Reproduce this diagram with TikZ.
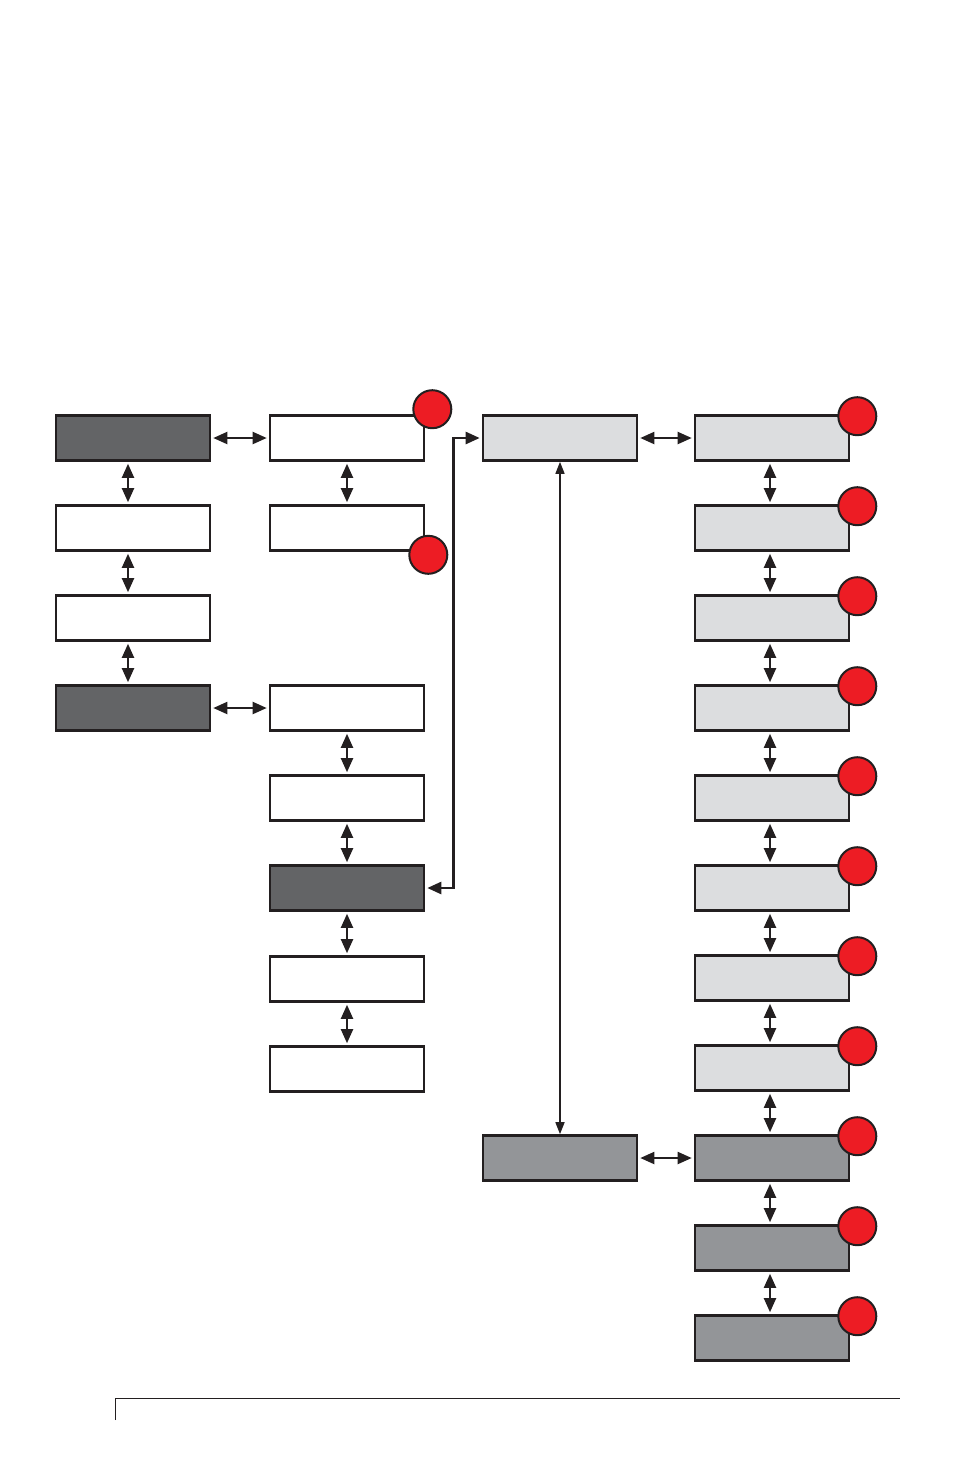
\documentclass[tikz,border=0pt]{standalone}
\usetikzlibrary{arrows.meta,positioning}
\definecolor{MenuInk}{RGB}{35,31,32}
\definecolor{MenuDark}{RGB}{99,100,102}
\definecolor{MenuMid}{RGB}{147,149,152}
\definecolor{MenuLight}{RGB}{220,221,223}
\definecolor{MenuRed}{RGB}{237,28,36}
\tikzset{
  menu/box/.style={
    draw=MenuInk,
    line width=1.3pt,
    fill=white,
    minimum width=77pt,
    minimum height=22.5pt,
    inner sep=0pt
  },
  menu/dark/.style={menu/box, fill=MenuDark},
  menu/mid/.style={menu/box, fill=MenuMid},
  menu/light/.style={menu/box, fill=MenuLight},
  menu/dot/.style={circle, draw=MenuInk, line width=1pt, fill=MenuRed, minimum size=19pt, inner sep=0pt},
  menu/arrow/.style={{Triangle[length=7pt,width=6pt]}-{Triangle[length=7pt,width=6pt]}, line width=1pt, draw=MenuInk, shorten <=1pt, shorten >=1pt},
  menu/thinarrow/.style={{Triangle[length=6pt,width=4.5pt]}-{Triangle[length=6pt,width=4.5pt]}, line width=0.75pt, draw=MenuInk},
  menu/rule/.style={line width=0.5pt, draw=MenuInk}
}

\begin{document}
\begin{tikzpicture}[x=0.5pt,y=-0.5pt]
  \useasboundingbox (0,0) rectangle (954,1474);
  % left column
  \node[menu/dark] (a1) at (133,438) {};
  \node[menu/box] (a2) at (133,528) {};
  \node[menu/box] (a3) at (133,618) {};
  \node[menu/dark] (a4) at (133,708) {};
  % second column
  \node[menu/box] (b1) at (347,438) {};
  \node[menu/box] (b2) at (347,528) {};
  \node[menu/box] (b3) at (347,708) {};
  \node[menu/box] (b4) at (347,798) {};
  \node[menu/dark] (b5) at (347,888) {};
  \node[menu/box] (b6) at (347,979) {};
  \node[menu/box] (b7) at (347,1069) {};
  % third column
  \node[menu/light] (c1) at (560,438) {};
  \node[menu/mid] (c2) at (560,1158) {};
  % right column
  \foreach \i in {1,...,8}{
    \node[menu/light] (d\i) at (772,348+90*\i) {};
  }
  \foreach \i in {9,10,11}{
    \node[menu/mid] (d\i) at (772,348+90*\i) {};
  }
  % red markers
  \node[menu/dot] (bdot1) at ([shift={(7,-5)}]b1.north east) {};
  \node[menu/dot] (bdot2) at ([shift={(3,3)}]b2.south east) {};
  \foreach \i in {1,...,11}{
    \node[menu/dot] (ddot\i) at ([shift={(7,2)}]d\i.north east) {};
  }
  % links
  \foreach \u/\v in {a1/a2,a2/a3,a3/a4}{
    \draw[menu/arrow] ([xshift=-2.5pt]\u.south) -- ([xshift=-2.5pt]\v.north);
  }
  \foreach \u/\v in {b1/b2,b3/b4,b4/b5,b5/b6,b6/b7,a1/b1,a4/b3,c1/d1,c2/d9}{
    \draw[menu/arrow] (\u) -- (\v);
  }
  \foreach \i [evaluate=\i as \j using int(\i+1)] in {1,...,10}{
    \draw[menu/arrow] ([xshift=-1pt]d\i.south) -- ([xshift=-1pt]d\j.north);
  }
  \draw[menu/arrow, line width=1.25pt] (b5.east) -- ++(28,0) |- (c1.west);
  \draw[menu/thinarrow] (c1) -- (c2);
  % page rule
  \draw[menu/rule] (115,1420) -- (115,1398) -- (900,1398);
\end{tikzpicture}
\end{document}
